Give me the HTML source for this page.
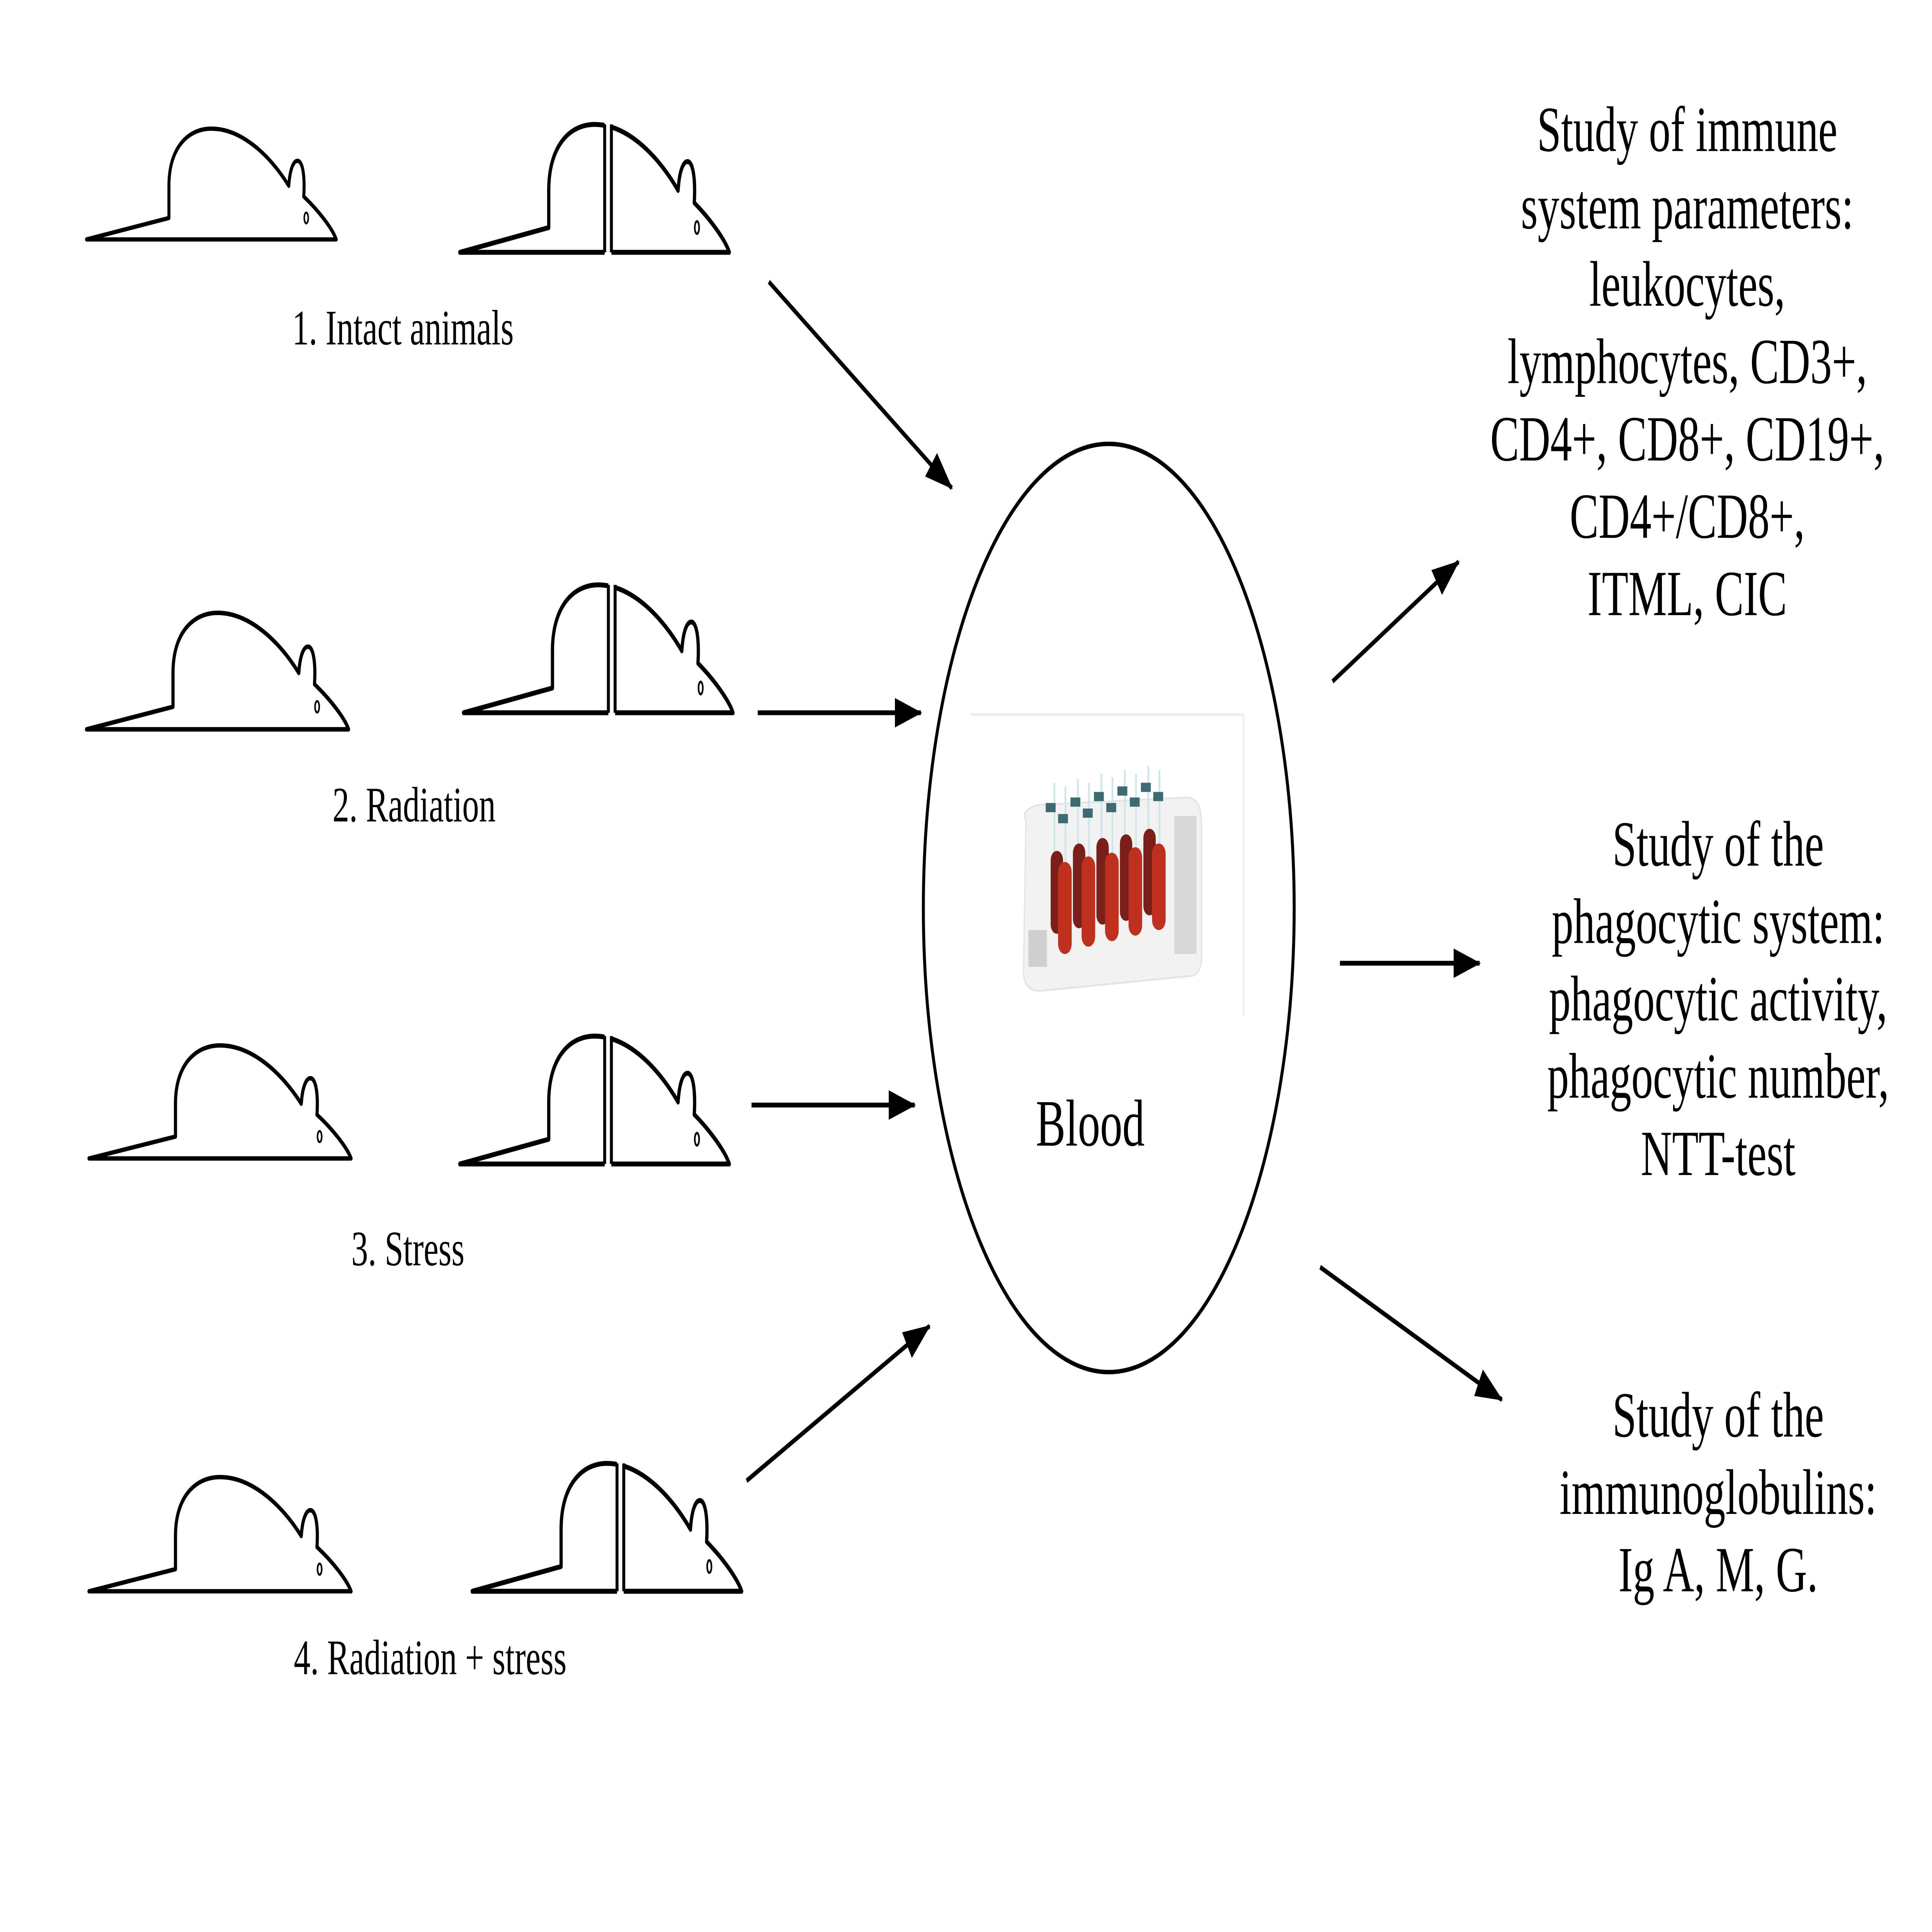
<!DOCTYPE html>
<html><head><meta charset="utf-8"><style>html,body{margin:0;padding:0;background:#fff;width:100%;height:100%;overflow:hidden}svg{display:block;width:100vw;height:100vh;position:absolute;left:0;top:0}</style></head>
<body>
<svg viewBox="0 0 1563 1049" preserveAspectRatio="none" xmlns="http://www.w3.org/2000/svg">
<defs>
<g id="m">
<path d="M0,0 L66,-12 L66,-30 C66,-52 82,-62 100,-62 C125,-62 148,-46 162,-30 C163,-40 166,-44 169,-44 C173,-44 175,-36 174,-24 C186,-16 197,-6 200,0 Z" fill="#fff" stroke="#000" stroke-width="2.4" stroke-linejoin="round"/>
<ellipse cx="176" cy="-12" rx="1.6" ry="3" fill="none" stroke="#000" stroke-width="1.2"/>
</g>
<g id="s">
<use href="#m"/>
<rect x="107.5" y="-70" width="5" height="72" fill="#fff"/>
<line x1="107.5" y1="-62" x2="107.5" y2="0" stroke="#000" stroke-width="2.2"/>
<line x1="112.5" y1="-62" x2="112.5" y2="0" stroke="#000" stroke-width="2.2"/>
</g>
<marker id="b" viewBox="0 0 22 16" refX="21" refY="8" markerWidth="22" markerHeight="16" orient="auto" markerUnits="userSpaceOnUse">
<path d="M0,0 L22,8 L0,16 Z" fill="#000"/>
</marker>
</defs>

<use href="#m" transform="translate(70,130) scale(1.01,0.97)"/>
<use href="#s" transform="translate(372,137) scale(1.09,1.12)"/>
<use href="#m" transform="translate(70,396) scale(1.06,1.02)"/>
<use href="#s" transform="translate(375,387) scale(1.09,1.12)"/>
<use href="#m" transform="translate(72,629) scale(1.06,0.99)"/>
<use href="#s" transform="translate(372,632) scale(1.09,1.12)"/>
<use href="#m" transform="translate(72,864) scale(1.06,1.0)"/>
<use href="#s" transform="translate(382,864) scale(1.09,1.12)"/>

<g font-family="Liberation Serif, serif" font-size="27" text-anchor="middle" fill="#000">
<text x="326" y="187">1. Intact animals</text>
<text x="335" y="446">2. Radiation</text>
<text x="330" y="687">3. Stress</text>
<text x="348" y="909">4. Radiation + stress</text>
</g>

<ellipse cx="897" cy="493" rx="150" ry="252" fill="none" stroke="#000" stroke-width="2.4"/>
<rect x="785" y="387" width="222" height="166" fill="#fff"/>
<line x1="785" y1="388" x2="1006" y2="388" stroke="#eee" stroke-width="1.5"/>
<line x1="1006" y1="388" x2="1006" y2="552" stroke="#f0f0f0" stroke-width="1.5"/>
<path d="M830,445 Q825,440 840,437 L960,433 Q972,433 972,447 L972,520 Q972,530 962,530 L842,538 Q828,538 828,528 Z" fill="#f2f2f2" stroke="#e4e4e4" stroke-width="1"/>
<rect x="950" y="443" width="18" height="75" fill="#d8d8d8"/>
<rect x="832" y="505" width="15" height="20" fill="#cfcfcf"/>
<g fill="#7a1f1a">
<rect x="850" y="462" width="10" height="45" rx="5"/><rect x="868" y="458" width="10" height="46" rx="5"/><rect x="887" y="455" width="10" height="47" rx="5"/><rect x="906" y="453" width="10" height="47" rx="5"/><rect x="925" y="450" width="10" height="47" rx="5"/>
</g>
<g fill="#c0301e">
<rect x="856" y="468" width="11" height="50" rx="5.5"/><rect x="875" y="465" width="11" height="49" rx="5.5"/><rect x="894" y="463" width="11" height="48" rx="5.5"/><rect x="913" y="460" width="11" height="48" rx="5.5"/><rect x="932" y="458" width="11" height="47" rx="5.5"/>
</g>
<g stroke="#cfe6ea" stroke-width="1.5" fill="none">
<path d="M853,425 V462 M862,427 V468 M872,423 V458 M881,425 V465 M891,420 V455 M900,422 V463 M910,418 V453 M919,420 V460 M929,416 V450 M938,418 V458"/>
</g>
<g fill="#3f6a72">
<rect x="846" y="436" width="8" height="5"/><rect x="856" y="442" width="8" height="5"/><rect x="866" y="433" width="8" height="5"/><rect x="876" y="439" width="8" height="5"/><rect x="885" y="430" width="8" height="5"/><rect x="895" y="436" width="8" height="5"/><rect x="904" y="427" width="8" height="5"/><rect x="914" y="433" width="8" height="5"/><rect x="923" y="425" width="8" height="5"/><rect x="933" y="430" width="8" height="5"/>
</g>
<text x="882" y="622" font-family="Liberation Serif, serif" font-size="36" text-anchor="middle">Blood</text>

<g stroke="#000" stroke-width="2.6" fill="none" marker-end="url(#b)">
<line x1="622" y1="153" x2="770" y2="265"/>
<line x1="613" y1="387" x2="745" y2="387"/>
<line x1="608" y1="600" x2="740" y2="600"/>
<line x1="604" y1="804" x2="752" y2="720"/>
<line x1="1078" y1="370" x2="1180" y2="305"/>
<line x1="1084" y1="523" x2="1197" y2="523"/>
<line x1="1068" y1="688" x2="1215" y2="760"/>
</g>

<g font-family="Liberation Serif, serif" font-size="35" text-anchor="middle" fill="#000">
<text x="1365" y="82">Study of immune</text>
<text x="1365" y="124">system parameters:</text>
<text x="1365" y="166">leukocytes,</text>
<text x="1365" y="208">lymphocytes, CD3+,</text>
<text x="1365" y="250">CD4+, CD8+, CD19+,</text>
<text x="1365" y="292">CD4+/CD8+,</text>
<text x="1365" y="334">ITML, CIC</text>
<text x="1390" y="470">Study of the</text>
<text x="1390" y="512">phagocytic system:</text>
<text x="1390" y="554">phagocytic activity,</text>
<text x="1390" y="596">phagocytic number,</text>
<text x="1390" y="638">NTT-test</text>
<text x="1390" y="780">Study of the</text>
<text x="1390" y="822">immunoglobulins:</text>
<text x="1390" y="864">Ig A, M, G.</text>
</g>
</svg>
</body></html>
